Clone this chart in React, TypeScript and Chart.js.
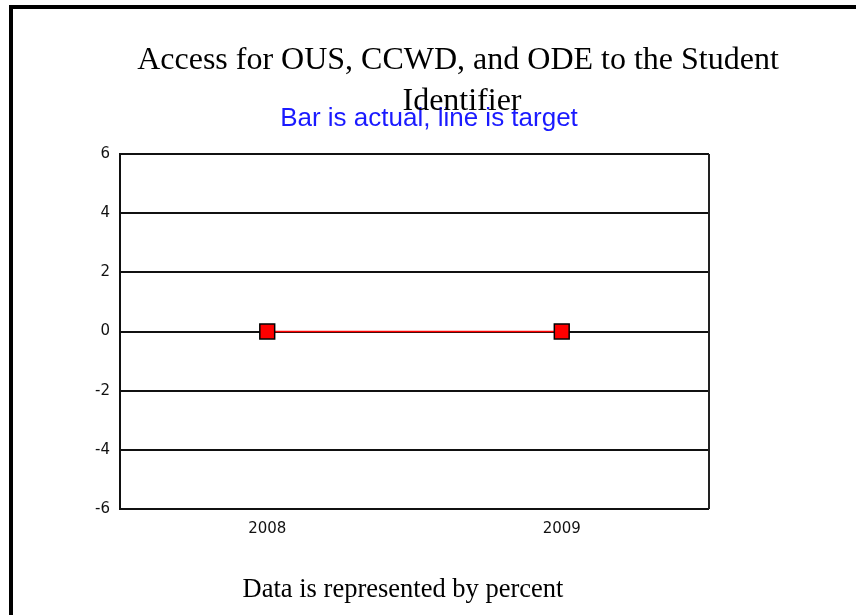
import React, { useEffect, useRef } from "react";
import { Chart, registerables } from "chart.js";

Chart.register(...registerables);

const categories = ["2008", "2009"];
const actualValues = [0, 0];
const targetValues = [0, 0];
const yTicks = [-6, -4, -2, 0, 2, 4, 6];
const titleLines = ["Access for OUS, CCWD, and ODE to the Student", "Identifier"];
const subtitleText = "Bar is actual, line is target";
const footerText = "Data is represented by percent";

const decorPlugin = {
  id: "decor",
  afterDraw(chart: any) {
    const ctx = chart.ctx as CanvasRenderingContext2D;
    const a = chart.chartArea;
    ctx.save();
    // frame
    ctx.strokeStyle = "#000";
    ctx.lineWidth = 4;
    ctx.beginPath();
    ctx.moveTo(11, 700);
    ctx.lineTo(11, 7);
    ctx.lineTo(900, 7);
    ctx.stroke();
    // right border of plot
    ctx.lineWidth = 2;
    ctx.strokeStyle = "#222";
    ctx.beginPath();
    ctx.moveTo(a.right, a.top);
    ctx.lineTo(a.right, a.bottom);
    ctx.stroke();
    // titles
    ctx.fillStyle = "#000";
    ctx.textAlign = "center";
    ctx.textBaseline = "alphabetic";
    ctx.font = "32px 'Liberation Serif', 'Times New Roman', serif";
    ctx.fillText(titleLines[0], 458, 69);
    ctx.fillStyle = "#1a1aff";
    ctx.font = "26px 'Liberation Sans', Arial, sans-serif";
    ctx.fillText(subtitleText, 429, 126);
    ctx.fillStyle = "#000";
    ctx.font = "32px 'Liberation Serif', 'Times New Roman', serif";
    ctx.fillText(titleLines[1], 462, 110);
    ctx.font = "26.5px 'Liberation Serif', 'Times New Roman', serif";
    ctx.fillText(footerText, 403, 597);
    ctx.restore();
  },
};

export default function App() {
  const ref = useRef<HTMLCanvasElement | null>(null);
  useEffect(() => {
    document.body.style.margin = "0";
    const canvas = ref.current;
    if (!canvas) return;
    const chart = new Chart(canvas, {
      type: "bar",
      data: {
        labels: categories,
        datasets: [
          {
            type: "line",
            label: "Target",
            data: targetValues,
            borderColor: "#ff0000",
            borderWidth: 1.5,
            backgroundColor: "#ff0000",
            pointStyle: "rect",
            pointRadius: 10.5,
            pointBorderColor: "#000",
            pointBorderWidth: 1.5,
            pointBackgroundColor: "#ff0000",
            order: 0,
          },
          {
            type: "bar",
            label: "Actual",
            data: actualValues,
            backgroundColor: "#3366cc",
            borderWidth: 0,
            order: 1,
          },
        ],
      },
      options: {
        animation: false,
        responsive: false,
        maintainAspectRatio: false,
        layout: { padding: { left: 0, top: 154, right: 147, bottom: 76 } },
        plugins: {
          legend: { display: false },
          title: { display: false },
          tooltip: { enabled: false },
        },
        scales: {
          x: {
            offset: true,
            grid: { display: false, drawTicks: false },
            border: { display: false },
            ticks: {
              color: "#111",
              font: { family: "'DejaVu Sans', sans-serif", size: 15 },
              padding: 11,
            },
            afterFit(scale: any) {
              scale.height = 30;
            },
          },
          y: {
            min: -6,
            max: 6,
            afterBuildTicks(scale: any) {
              scale.ticks = yTicks.map((v) => ({ value: v }));
            },
            grid: { color: "#111", lineWidth: 2, drawTicks: false },
            border: { display: true, color: "#111", width: 2 },
            ticks: {
              color: "#111",
              font: { family: "'DejaVu Sans', sans-serif", size: 15 },
              padding: 10,
            },
            afterFit(scale: any) {
              scale.width = 120;
            },
          },
        },
      },
      plugins: [decorPlugin],
    });
    return () => chart.destroy();
  }, []);
  return (
    <div style={{ width: 856, height: 615, background: "#fff" }}>
      <canvas ref={ref} width={856} height={615} style={{ display: "block" }} />
    </div>
  );
}
